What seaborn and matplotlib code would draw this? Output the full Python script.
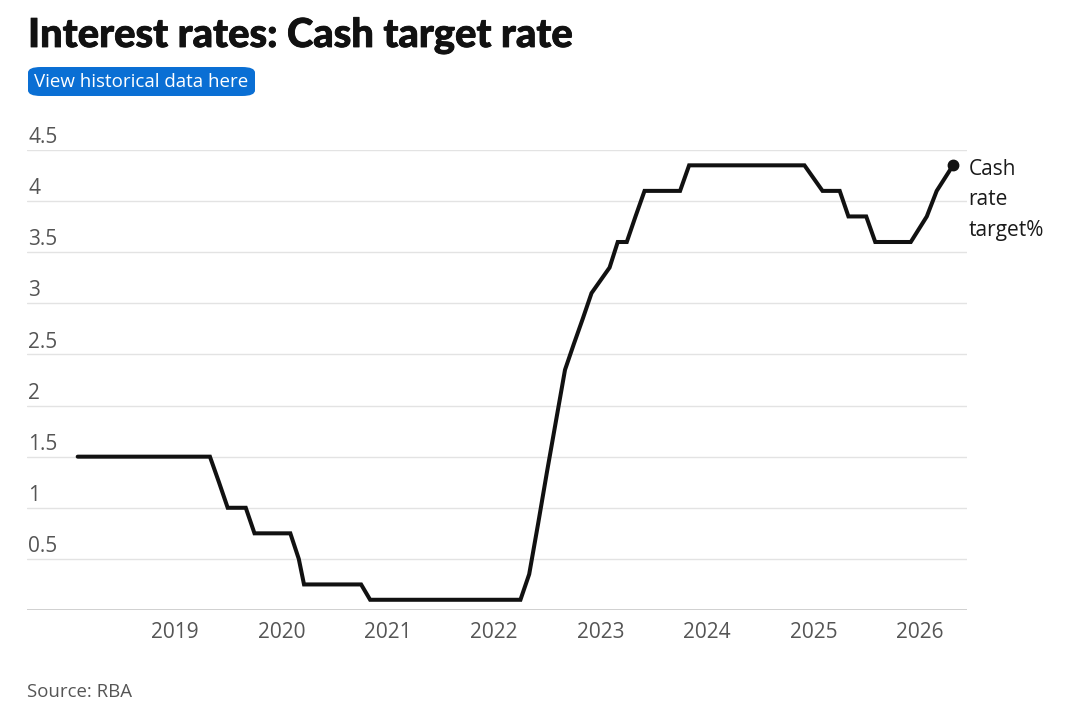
import matplotlib.pyplot as plt
import matplotlib.dates as mdates
import matplotlib.patheffects as pe
from matplotlib.patches import FancyBboxPatch
import pandas as pd
import seaborn as sns

# RBA cash rate target, one point per month where the line bends
dates = ["2018-02-01", "2019-05-01", "2019-06-01", "2019-07-01", "2019-09-01",
         "2019-10-01", "2020-02-01", "2020-03-01", "2020-03-19", "2020-10-01",
         "2020-11-01", "2022-04-01", "2022-05-01", "2022-06-01", "2022-07-01",
         "2022-08-01", "2022-09-01", "2022-10-01", "2022-11-01", "2022-12-01",
         "2023-02-01", "2023-03-01", "2023-04-01", "2023-05-01", "2023-06-01",
         "2023-10-01", "2023-11-01", "2024-12-01", "2025-02-01", "2025-04-01",
         "2025-05-01", "2025-07-01", "2025-08-01", "2025-12-01", "2026-01-25",
         "2026-02-28", "2026-04-25"]
rates = [1.5, 1.5, 1.25, 1.0, 1.0,
         0.75, 0.75, 0.5, 0.25, 0.25,
         0.1, 0.1, 0.35, 0.85, 1.35,
         1.85, 2.35, 2.6, 2.85, 3.1,
         3.35, 3.6, 3.6, 3.85, 4.1,
         4.1, 4.35, 4.35, 4.1, 4.1,
         3.85, 3.85, 3.6, 3.6, 3.85,
         4.1, 4.35]
y_ticks = [0.5, 1, 1.5, 2, 2.5, 3, 3.5, 4, 4.5]
x_years = [2019, 2020, 2021, 2022, 2023, 2024, 2025, 2026]

title = "Interest rates: Cash target rate"
button_text = "View historical data here"
series_label = "Cash\nrate\ntarget%"
source = "Source: RBA"

df = pd.DataFrame({"date": pd.to_datetime(dates), "rate": rates})

sns.set_style("white")
plt.rcParams["font.family"] = ["Open Sans", "DejaVu Sans"]

fig = plt.figure(figsize=(10.8, 7.1), dpi=100)
ax = fig.add_axes([27 / 1080, 100 / 710, 940 / 1080, 460 / 710])

sns.lineplot(data=df, x="date", y="rate", ax=ax, color="#111111", linewidth=2.9,
             solid_joinstyle="miter", solid_capstyle="round", clip_on=False)
last = df.iloc[-1]
ax.plot(last["date"], last["rate"], "o", color="#111111", markersize=7.5, clip_on=False)
ax.annotate(series_label, xy=(last["date"], last["rate"]), xytext=(11, 4.5),
            textcoords="offset points", ha="left", va="top", fontsize=15,
            color="#1a1a1a", linespacing=1.58, annotation_clip=False)

ax.set_xlim(pd.Timestamp("2017-08-11"), pd.Timestamp("2026-06-12"))
ax.set_ylim(0, 4.5)

# grid lines with labels sitting above them
for v in y_ticks:
    ax.axhline(v, color="#e3e3e3", linewidth=1, zorder=0)
    ax.annotate(f"{v:g}", xy=(0, v), xycoords=("axes fraction", "data"),
                xytext=(1, 5), textcoords="offset points", ha="left", va="baseline",
                fontsize=15, color="#555555")
ax.axhline(0, color="#c8c8c8", linewidth=1.2, zorder=0)

ax.set_yticks([])
ax.set_xticks([pd.Timestamp(f"{y}-01-01") for y in x_years])
ax.xaxis.set_major_formatter(mdates.DateFormatter("%Y"))
ax.tick_params(axis="x", length=0, pad=8.5, labelsize=15, labelcolor="#555555")
ax.set_xlabel("")
ax.set_ylabel("")
sns.despine(ax=ax, left=True, bottom=True, top=True, right=True)

fig.text(28 / 1080, 1 - 47 / 710, title, fontsize=28.7, fontweight="black",
         family=["Lato", "DejaVu Sans"], color="#111111", va="baseline",
         path_effects=[pe.withStroke(linewidth=0.6, foreground="#111111")])

btn = FancyBboxPatch((28 / 1080, 1 - 96 / 710), 227 / 1080, 29 / 710,
                     boxstyle="round,pad=0,rounding_size=0.012",
                     transform=fig.transFigure, facecolor="#0a6fd4",
                     edgecolor="none", mutation_aspect=710 / 1080)
fig.add_artist(btn)
fig.text(141 / 1080, 1 - 82 / 710, button_text, fontsize=13.5, color="white",
         ha="center", va="center")

fig.text(27 / 1080, 1 - 692 / 710, source, fontsize=13.4, color="#555555", va="center")

fig.savefig("out.png", dpi=100, facecolor="white")
